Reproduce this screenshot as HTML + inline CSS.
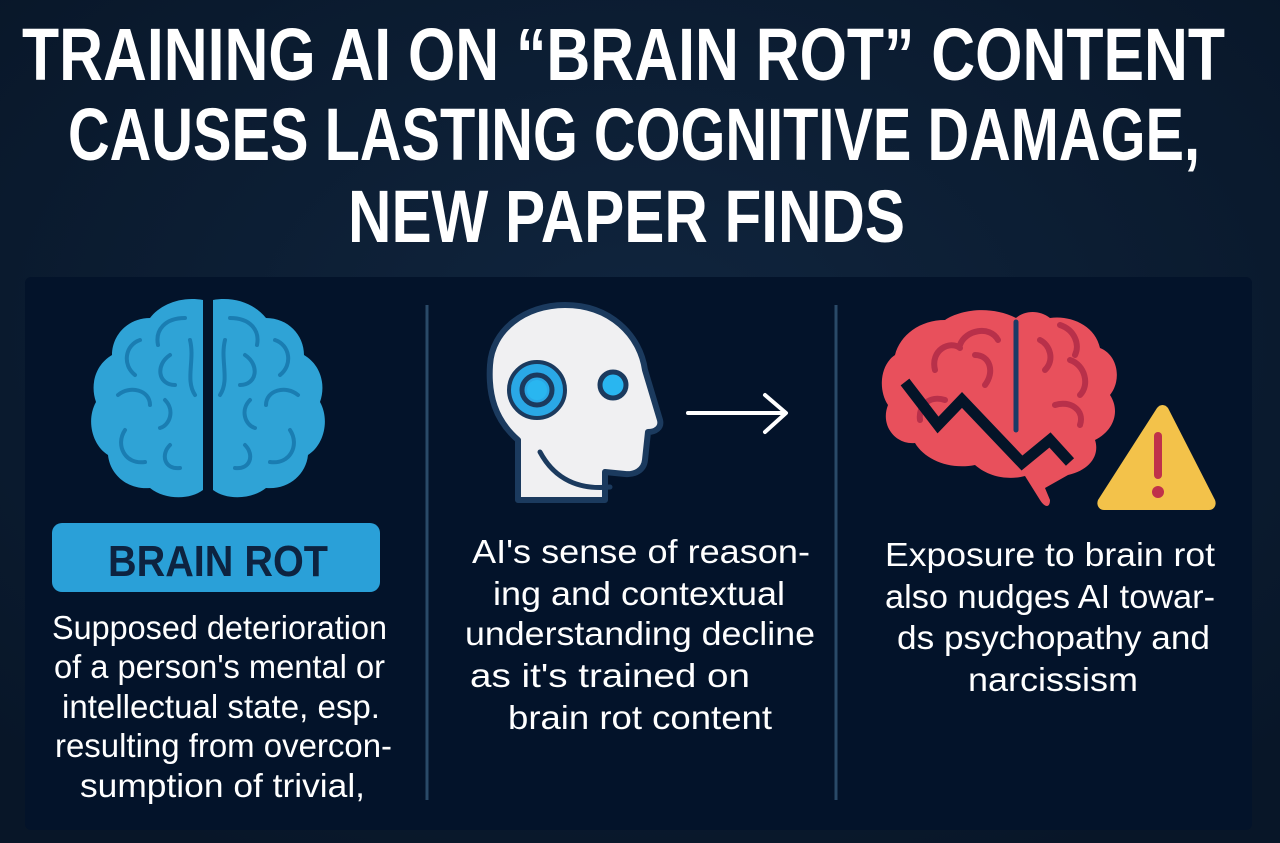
<!DOCTYPE html>
<html><head><meta charset="utf-8"><style>
html,body{margin:0;padding:0;background:#0b1d33;}
svg{display:block}
</style></head><body>
<svg width="1280" height="843" viewBox="0 0 1280 843" xmlns="http://www.w3.org/2000/svg">
<defs>
<radialGradient id="bg" cx="50%" cy="40%" r="70%">
<stop offset="0" stop-color="#10253e"/><stop offset="1" stop-color="#081628"/>
</radialGradient>
</defs>
<rect width="1280" height="843" fill="url(#bg)"/>
<g font-family="Liberation Sans, sans-serif" font-weight="bold" fill="#ffffff" font-size="74">
<text x="22" y="80" textLength="1203" lengthAdjust="spacingAndGlyphs">TRAINING AI ON “BRAIN ROT” CONTENT</text>
<text x="68" y="160" textLength="1132" lengthAdjust="spacingAndGlyphs">CAUSES LASTING COGNITIVE DAMAGE,</text>
<text x="348" y="242" textLength="557" lengthAdjust="spacingAndGlyphs">NEW PAPER FINDS</text>
</g>
<rect x="25" y="277" width="1227" height="553" rx="6" fill="#03132a"/>
<line x1="427" y1="305" x2="427" y2="800" stroke="#2a4a68" stroke-width="3"/>
<line x1="836" y1="305" x2="836" y2="800" stroke="#2a4a68" stroke-width="3"/>

<g>
<path d="M203,300 C180,296 160,305 150,318 C128,318 112,335 112,355 C95,365 90,385 96,402 C86,420 92,445 108,455 C110,475 128,490 150,488 C165,500 190,500 203,490 Z" fill="#2fa3d6"/>
<path d="M213,300 C236,296 256,305 266,318 C288,318 304,335 304,355 C321,365 326,385 320,402 C330,420 324,445 308,455 C306,475 288,490 266,488 C251,500 226,500 213,490 Z" fill="#2fa3d6"/>
<g fill="none" stroke="#1a7db2" stroke-width="4" stroke-linecap="round">
<path d="M185,318 C165,318 155,330 158,345 M140,340 C125,345 122,365 135,375 M170,355 C155,365 158,385 175,385 M118,395 C130,385 150,390 150,405 M165,400 C175,410 170,425 160,428 M125,430 C115,445 125,465 145,462 M170,445 C160,455 165,470 180,468 M190,340 C195,360 185,380 195,395"/>
<path d="M230,318 C250,318 260,330 257,345 M275,340 C290,345 293,365 280,375 M245,355 C260,365 257,385 240,385 M298,395 C286,385 266,390 266,405 M250,400 C240,410 245,425 255,428 M290,430 C300,445 290,465 270,462 M245,445 C255,455 250,470 235,468 M225,340 C220,360 230,380 220,395"/>
</g>
</g>
<rect x="52" y="523" width="328" height="69" rx="10" fill="#2aa0d8"/>
<text x="108" y="576" font-family="Liberation Sans, sans-serif" font-weight="bold" font-size="44" fill="#0d2340" textLength="220" lengthAdjust="spacingAndGlyphs">BRAIN ROT</text>

<g font-family="Liberation Sans, sans-serif" font-size="33" fill="#ffffff">
<text x="52" y="639" textLength="335" lengthAdjust="spacingAndGlyphs">Supposed deterioration</text>
<text x="54" y="678" textLength="331" lengthAdjust="spacingAndGlyphs">of a person's mental or</text>
<text x="62" y="718" textLength="318" lengthAdjust="spacingAndGlyphs">intellectual state, esp.</text>
<text x="55" y="757" textLength="337" lengthAdjust="spacingAndGlyphs">resulting from overcon-</text>
<text x="80" y="797" textLength="285" lengthAdjust="spacingAndGlyphs">sumption of trivial,</text>

<text x="472" y="563" textLength="338" lengthAdjust="spacingAndGlyphs">AI's sense of reason-</text>
<text x="493" y="605" textLength="292" lengthAdjust="spacingAndGlyphs">ing and contextual</text>
<text x="465" y="645" textLength="350" lengthAdjust="spacingAndGlyphs">understanding decline</text>
<text x="470" y="687" textLength="280" lengthAdjust="spacingAndGlyphs">as it's trained on</text>
<text x="508" y="729" textLength="264" lengthAdjust="spacingAndGlyphs">brain rot content</text>

<text x="885" y="566" textLength="330" lengthAdjust="spacingAndGlyphs">Exposure to brain rot</text>
<text x="885" y="608" textLength="330" lengthAdjust="spacingAndGlyphs">also nudges AI towar-</text>
<text x="897" y="649" textLength="313" lengthAdjust="spacingAndGlyphs">ds psychopathy and</text>
<text x="968" y="691" textLength="170" lengthAdjust="spacingAndGlyphs">narcissism</text>
</g>

<path d="M518,500 L518,440 C495,420 488,395 490,365 C492,330 525,305 565,305 C610,305 640,335 645,370 L660,420 C662,428 655,432 648,432 L645,460 C644,470 635,475 625,474 L605,472 L605,500 Z" fill="#f0f0f2" stroke="#1b3a5e" stroke-width="6" stroke-linejoin="round"/>
<circle cx="537" cy="390" r="28" fill="#2aa8e6" stroke="#1b3a5e" stroke-width="4"/>
<circle cx="537" cy="390" r="15" fill="none" stroke="#1b3a5e" stroke-width="5"/>
<circle cx="537" cy="390" r="10" fill="#29b6f0"/>
<circle cx="613" cy="385" r="13" fill="#29b6f0" stroke="#1b3a5e" stroke-width="5"/>
<path d="M540,452 C555,480 580,490 610,487" fill="none" stroke="#1b3a5e" stroke-width="5" stroke-linecap="round"/>
<g stroke="#ffffff" stroke-width="4" fill="none" stroke-linecap="round" stroke-linejoin="round">
<line x1="688" y1="413" x2="785" y2="413"/>
<polyline points="765,395 786,413 765,432"/>
</g>

<path d="M1016,318 C990,305 960,310 945,320 C920,320 900,335 895,355 C880,365 878,390 888,405 C880,425 895,445 915,443 C925,460 950,470 975,465 C990,478 1010,480 1025,476 L1040,500 C1045,508 1050,508 1050,500 L1045,488 L1068,475 C1090,470 1100,455 1095,440 C1115,430 1120,410 1110,395 C1122,380 1118,355 1100,348 C1095,325 1070,315 1050,318 C1040,310 1025,310 1016,318 Z" fill="#e8505c"/>
<g fill="none" stroke="#b8304a" stroke-width="6" stroke-linecap="round">
<path d="M935,370 C930,350 950,340 960,348 M960,345 C965,330 990,325 998,340 M975,355 C990,355 995,372 985,385 M945,400 C930,395 918,405 920,420 M1040,340 C1050,345 1055,360 1045,370 M1060,325 C1075,330 1080,345 1075,355 M1070,360 C1085,365 1090,385 1080,395 M1055,405 C1070,400 1085,410 1080,425"/>
</g>
<line x1="1016" y1="322" x2="1016" y2="430" stroke="#1b3a66" stroke-width="5" stroke-linecap="round"/>
<polyline points="905,382 938,425 962,400 1022,463 1050,440 1070,462" fill="none" stroke="#041428" stroke-width="11" stroke-linejoin="miter"/>
<path d="M1157,408 C1160,404 1165,404 1168,408 L1215,500 C1217,505 1214,510 1209,510 L1104,510 C1099,510 1096,505 1098,500 Z" fill="#f3c24a"/>
<line x1="1158" y1="436" x2="1158" y2="475" stroke="#c0314a" stroke-width="8" stroke-linecap="round"/>
<circle cx="1158" cy="492" r="6" fill="#c0314a"/>
</svg>
</body></html>
